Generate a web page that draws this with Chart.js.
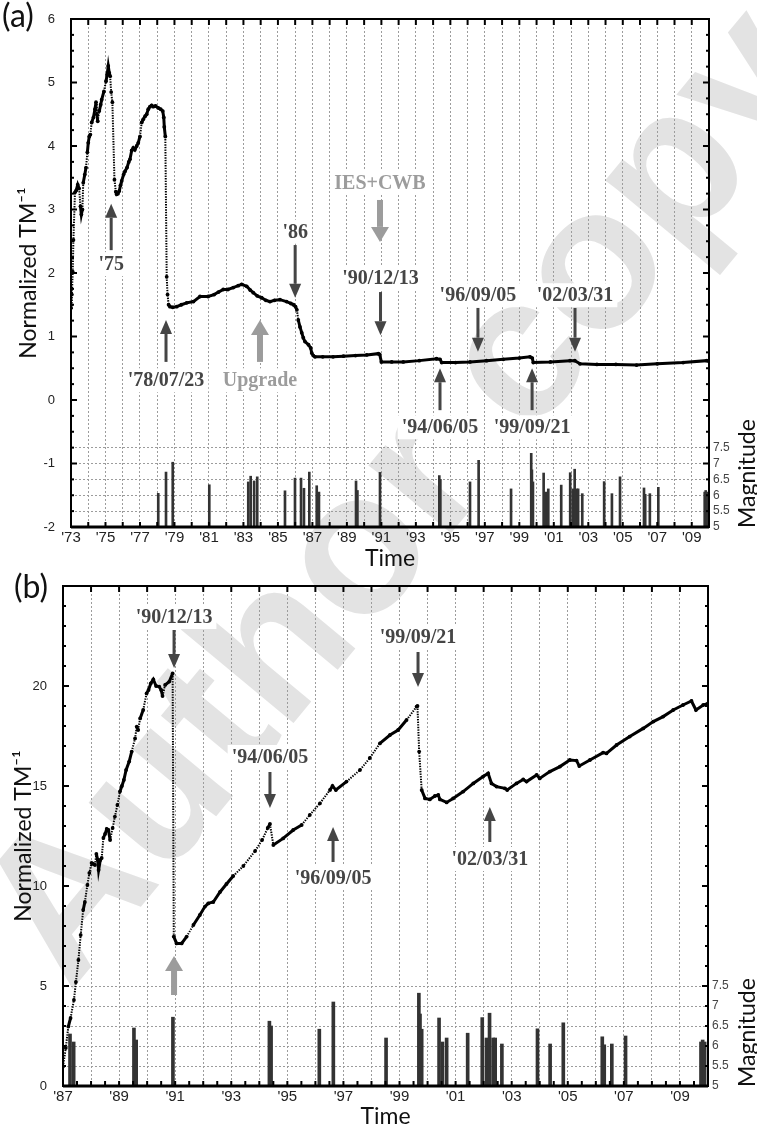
<!DOCTYPE html>
<html>
<head>
<meta charset="utf-8">
<script src="https://cdn.jsdelivr.net/npm/chart.js@4/dist/chart.umd.min.js"></script>
<style>
  html, body { margin: 0; padding: 0; background: #fff; }
  #wrap { position: relative; width: 757px; height: 1131px; overflow: hidden; background: #fff; }
  #ca { position: absolute; left: 0; top: 0; }
  #cb { position: absolute; left: 0; top: 570px; }
</style>
</head>
<body>
<div id="wrap">
  <canvas id="ca" width="757" height="570"></canvas>
  <canvas id="cb" width="757" height="561"></canvas>
</div>
<script>
// ---------------- Panel (a): normalized TM^-1, 1973-2010 ----------------
const timeA = [1973.00,1973.05,1973.10,1973.14,1973.23,1973.30,1973.39,1973.47,1973.55,
  1973.60,1973.66,1973.71,1973.80,1973.87,1973.95,1974.00,1974.06,1974.12,1974.20,
  1974.30,1974.39,1974.45,1974.50,1974.55,1974.64,1974.72,1974.78,1974.91,1975.03,
  1975.10,1975.16,1975.22,1975.27,1975.33,1975.40,1975.52,1975.60,1975.65,
  1975.72,1975.80,1975.87,1975.94,1976.05,1976.13,1976.25,1976.35,1976.42,1976.52,
  1976.61,1976.70,1976.81,1976.90,1977.00,1977.10,1977.19,1977.30,1977.39,1977.48,
  1977.58,1977.68,1977.77,1977.90,1978.06,1978.20,1978.32,1978.38,1978.41,1978.47,
  1978.55,1978.60,1978.66,1978.74,1978.90,1979.13,1979.40,1979.71,1980.10,
  1980.48,1980.95,1981.30,1981.55,1981.83,1982.10,1982.41,1982.70,1982.90,1983.19,
  1983.40,1983.57,1983.80,1984.06,1984.30,1984.54,1984.80,1985.12,1985.50,1985.75,
  1985.90,1986.02,1986.10,1986.18,1986.28,1986.38,1986.47,1986.57,1986.77,1986.90,
  1986.96,1987.05,1987.15,1987.60,1988.20,1988.80,1989.50,1990.15,1990.82,1990.90,
  1991.00,1991.60,1992.27,1993.20,1994.20,1994.40,1994.50,1995.30,1996.14,1997.10,
  1998.07,1999.00,1999.62,1999.75,1999.81,2000.80,2001.94,2002.22,2002.52,2003.50,
  2004.60,2005.80,2007.00,2008.50,2009.87,2010.00];
const tmA = [1.45,1.66,2.02,2.52,3.27,3.30,3.39,3.33,3.05,
  2.92,3.00,3.42,3.55,3.66,3.90,4.05,4.15,4.18,4.37,
  4.45,4.58,4.69,4.50,4.39,4.55,4.65,4.73,4.86,5.02,
  5.13,5.26,5.15,5.10,4.85,4.69,3.47,3.28,3.24,
  3.25,3.29,3.38,3.45,3.55,3.60,3.66,3.75,3.79,3.93,
  3.97,3.94,4.00,4.05,4.15,4.37,4.42,4.47,4.50,4.58,
  4.62,4.64,4.62,4.63,4.60,4.58,4.55,4.45,4.30,4.15,
  1.94,1.66,1.50,1.47,1.46,1.47,1.50,1.53,1.55,
  1.63,1.63,1.66,1.70,1.74,1.74,1.77,1.80,1.82,1.79,
  1.73,1.69,1.64,1.61,1.57,1.55,1.57,1.58,1.55,1.52,
  1.50,1.47,1.42,1.26,1.15,1.06,0.98,0.92,0.87,0.82,
  0.74,0.70,0.68,0.68,0.68,0.69,0.70,0.71,0.73,0.72,
  0.60,0.60,0.60,0.62,0.65,0.64,0.59,0.59,0.60,0.62,
  0.64,0.66,0.68,0.66,0.59,0.60,0.62,0.62,0.57,0.56,
  0.56,0.55,0.57,0.59,0.62,0.61];

// ---------------- Panel (b): normalized TM^-1, 1987-2010 ----------------
const timeB = [1987.00,1987.10,1987.19,1987.27,1987.39,1987.46,1987.55,1987.63,
  1987.72,1987.78,1987.87,1987.94,1988.02,1988.08,1988.14,1988.19,1988.24,1988.27,
  1988.33,1988.38,1988.44,1988.50,1988.56,1988.62,1988.68,1988.77,1988.85,1988.94,
  1989.03,1989.10,1989.17,1989.25,1989.36,1989.45,1989.57,1989.63,1989.68,1989.75,
  1989.86,1989.98,1990.05,1990.13,1990.22,1990.32,1990.43,1990.50,1990.55,1990.64,
  1990.79,1990.91,1990.95,1991.05,1991.23,1991.41,1991.65,1991.88,1992.06,1992.18,
  1992.36,1992.60,1992.83,1993.07,1993.43,1993.85,1994.10,1994.30,1994.38,
  1994.50,1994.85,1995.21,1995.51,1995.80,1996.16,1996.52,1996.61,1996.73,1997.11,
  1997.59,1997.94,1998.30,1998.66,1998.95,1999.25,1999.61,1999.64,1999.70,1999.79,
  1999.91,2000.08,2000.26,2000.38,2000.44,2000.68,2000.91,2001.27,2001.63,2001.98,
  2002.16,2002.28,2002.46,2002.76,2002.84,2003.17,2003.41,2003.53,2003.89,2004.00,
  2004.36,2004.72,2005.07,2005.31,2005.41,2005.79,2006.26,2006.38,2006.74,2007.21,
  2007.69,2008.05,2008.40,2008.76,2009.11,2009.41,2009.57,2009.83,2010.00];
const tmB = [0.97,1.9,2.97,3.4,4.3,5.2,6.3,7.55,
  8.8,9.2,10.05,10.65,11.15,11.1,11.05,11.6,11.3,10.8,
  11.3,11.4,12.4,12.6,12.85,12.8,12.3,12.9,13.47,14.05,
  14.72,15.0,15.3,15.8,16.22,16.72,17.38,17.97,17.8,18.38,
  18.8,19.63,19.8,20.13,20.33,20.0,19.97,19.8,19.5,20.05,
  20.22,20.63,7.47,7.13,7.13,7.47,8.05,8.55,8.97,9.13,
  9.2,9.7,10.1,10.5,11.0,11.75,12.3,12.9,13.1,
  12.05,12.38,12.8,13.05,13.55,14.13,14.8,15.0,14.8,15.22,
  15.8,16.4,17.13,17.55,17.8,18.3,18.97,19.0,16.72,14.8,
  14.38,14.33,14.5,14.55,14.33,14.18,14.38,14.72,15.13,15.47,
  15.63,15.13,14.97,14.88,14.8,15.13,15.33,15.22,15.55,15.38,
  15.72,15.97,16.3,16.27,16.0,16.3,16.67,16.63,17.05,17.47,
  17.88,18.22,18.47,18.8,19.05,19.25,18.8,19.05,19.13];

// ---------------- Earthquake catalogue (magnitude) ----------------
const quakeTime = [1978.06,1978.51,1978.90,1981.02,1983.28,1983.42,1983.62,1983.80,1985.41,1985.99,
  1986.34,1986.51,1986.82,1987.25,1987.38,1989.53,1989.61,1990.92,1994.36,1994.42,
  1996.14,1996.64,1998.52,1999.69,1999.73,1999.79,2000.41,2000.53,2000.68,2001.43,
  2001.95,2002.10,2002.21,2002.34,2002.41,2002.65,2003.92,2004.37,2004.84,2006.23,
  2006.30,2006.57,2007.06,2009.75,2009.81,2009.88];
const quakeMag = [6.06,6.73,7.04,6.33,6.42,6.6,6.45,6.58,6.14,6.54,
  6.54,6.22,6.73,6.3,6.1,6.45,6.15,6.72,6.62,6.5,
  6.42,7.1,6.2,7.32,6.8,6.42,6.7,6.1,6.2,6.32,
  6.71,6.2,6.82,6.2,6.2,6.05,6.43,6.05,6.58,6.23,
  6.03,6.05,6.25,6.1,6.15,6.1];

// ---------------- Tick labels ----------------
const xLabelYearsA = [1973,1975,1977,1979,1981,1983,1985,1987,1989,1991,1993,1995,1997,1999,2001,2003,2005,2007,2009];
const xLabelsA = ["'73","'75","'77","'79","'81","'83","'85","'87","'89","'91","'93","'95","'97","'99","'01","'03","'05","'07","'09"];
const xLabelYearsB = [1987,1989,1991,1993,1995,1997,1999,2001,2003,2005,2007,2009];
const xLabelsB = ["'87","'89","'91","'93","'95","'97","'99","'01","'03","'05","'07","'09"];
const yTicksA = [-2,-1,0,1,2,3,4,5,6];
const yLabelsA = ['-2','-1','0','1','2','3','4','5','6'];
const yTicksB = [0,5,10,15,20,25];
const yLabelsB = ['0','5','10','15','20',''];
const magTickValues = [5,5.5,6,6.5,7,7.5];
const magTickLabels = ['5','5.5','6','6.5','7','7.5'];

// ---------------- Annotations (data coordinates) ----------------
const notesA = [
  {text:"'75", year:1975.33, tip:3.09, tail:2.36, label:2.14},
  {text:"'78/07/23", year:1978.51, tip:1.26, tail:0.60, label:0.31},
  {text:"Upgrade", year:1983.96, tip:1.26, tail:0.60, label:0.31, gray:true},
  {text:"'86", year:1986.0, tip:1.61, tail:2.44, label:2.65},
  {text:"IES+CWB", year:1990.92, tip:2.49, tail:3.15, label:3.42, gray:true},
  {text:"'90/12/13", year:1990.95, tip:1.02, tail:1.70, label:1.92},
  {text:"'96/09/05", year:1996.6, tip:0.76, tail:1.45, label:1.65},
  {text:"'02/03/31", year:2002.23, tip:0.76, tail:1.45, label:1.65},
  {text:"'94/06/05", year:1994.4, tip:0.50, tail:-0.16, label:-0.43},
  {text:"'99/09/21", year:1999.74, tip:0.50, tail:-0.16, label:-0.43}
];
const notesB = [
  {text:"'90/12/13", year:1990.96, tip:20.9, tail:22.8, label:23.45},
  {text:"", year:1990.96, tip:6.5, tail:4.55, gray:true},
  {text:"'94/06/05", year:1994.38, tip:13.9, tail:15.7, label:16.45},
  {text:"'96/09/05", year:1996.63, tip:12.95, tail:11.2, label:10.4},
  {text:"'99/09/21", year:1999.66, tip:19.95, tail:21.7, label:22.45},
  {text:"'02/03/31", year:2002.22, tip:13.95, tail:12.2, label:11.35}
];

// ---------------- Drawing helpers ----------------
const TICK_FONT = '"Liberation Sans Narrow", "Liberation Sans", Arial, sans-serif';
const TITLE_FONT = 'Lato, "Liberation Sans", sans-serif';
const DARK = '#454545', GRAY = '#9c9c9c';

function drawArrow(ctx, x, yTail, yTip, gray) {
  const shaft = gray ? 6 : 3, headW = gray ? 18 : 12, headL = gray ? 15 : 14;
  const dir = Math.sign(yTip - yTail);
  const yBase = yTip - dir * headL;
  ctx.fillStyle = gray ? GRAY : DARK;
  ctx.fillRect(x - shaft / 2, Math.min(yTail, yBase), shaft, Math.abs(yBase - yTail));
  ctx.beginPath();
  ctx.moveTo(x - headW / 2, yBase);
  ctx.lineTo(x + headW / 2, yBase);
  ctx.lineTo(x, yTip);
  ctx.closePath();
  ctx.fill();
}
function drawLabel(ctx, text, x, y, gray) {
  ctx.font = 'bold 20px "Liberation Serif", "Times New Roman", serif';
  const w = ctx.measureText(text).width;
  ctx.fillStyle = '#fff';
  ctx.fillRect(x - w / 2 - 4, y - 12, w + 8, 24);
  ctx.fillStyle = gray ? GRAY : DARK;
  ctx.textAlign = 'center';
  ctx.textBaseline = 'middle';
  ctx.fillText(text, x, y + 1);
}
const isMult = (v, s) => Math.abs(v / s - Math.round(v / s)) < 1e-6;

const deco = {
  id: 'deco',
  beforeDraw(chart, args, o) {
    const ctx = chart.ctx;
    ctx.save();
    ctx.translate(69.5, 992.8 - o.offsetY);
    ctx.rotate(-50.3 * Math.PI / 180);
    ctx.font = 'bold 202px "Liberation Sans", Arial, sans-serif';
    ctx.fillStyle = '#e3e3e3';
    ctx.textAlign = 'left';
    ctx.textBaseline = 'alphabetic';
    ctx.fillText('Author copy', 0, 0);
    ctx.restore();
  },
  beforeDatasetsDraw(chart, args, o) {
    const {ctx, scales: {x, y}} = chart;
    ctx.save();
    o.notes.forEach(n => {
      const px = x.getPixelForValue(n.year);
      drawArrow(ctx, px, y.getPixelForValue(n.tail), y.getPixelForValue(n.tip), n.gray);
      if (n.text) drawLabel(ctx, n.text, px, y.getPixelForValue(n.label), n.gray);
    });
    ctx.restore();
  },
  afterDatasetsDraw(chart, args, o) {
    const {ctx, chartArea: a, scales: {x, y}} = chart;
    ctx.save();
    ctx.strokeStyle = '#000';
    const tick = (x1, y1, x2, y2, w) => { ctx.lineWidth = w; ctx.beginPath(); ctx.moveTo(x1, y1); ctx.lineTo(x2, y2); ctx.stroke(); };
    for (let v = x.min; v <= x.max + 1e-9; v += o.topStep) {
      const px = x.getPixelForValue(v); tick(px, a.top, px, a.top + 6, 2);
    }
    for (let v = x.min; v <= x.max + 1e-9; v += o.bottomStep) {
      const px = x.getPixelForValue(v); tick(px, a.bottom, px, a.bottom - 5, 2);
    }
    for (let v = y.min; v <= y.max + 1e-9; v += o.leftMinor) {
      const py = y.getPixelForValue(v);
      const major = isMult(v, o.leftMajor);
      tick(a.left, py, a.left + (major ? 6 : 3), py, 2);
      tick(a.right, py, a.right - (major ? 6 : 3), py, 2);
    }
    ctx.lineWidth = 2;
    ctx.strokeRect(a.left, a.top, a.right - a.left, a.bottom - a.top);
    tick(a.left, a.bottom, a.right, a.bottom, 3);
    // panel tag
    ctx.fillStyle = '#111';
    ctx.font = '32px ' + TITLE_FONT;
    ctx.textAlign = 'left';
    ctx.textBaseline = 'top';
    ctx.fillText(o.tag, o.tagX, o.tagY);
    // Magnitude title (reads bottom to top)
    ctx.save();
    ctx.translate(755, a.bottom + 1);
    ctx.rotate(-Math.PI / 2);
    ctx.font = '23px ' + TITLE_FONT;
    ctx.textBaseline = 'alphabetic';
    ctx.textAlign = 'left';
    ctx.fillText('Magnitude', 0, 0);
    ctx.restore();
    ctx.restore();
  }
};

const steep = c => Math.abs(c.p1.y - c.p0.y) > 10;

function makeChart(canvas, cfg) {
  const yearsAll = [];
  for (let v = cfg.x0; v <= cfg.x1; v++) yearsAll.push(v);
  const qIdx = quakeTime.map((t, i) => i).filter(i => quakeTime[i] >= cfg.x0);
  return new Chart(canvas, {
    type: 'line',
    data: {
      datasets: [
        {
          type: 'line', label: 'Normalized TM-1',
          data: cfg.time.map((t, i) => ({x: t, y: cfg.tm[i]})),
          yAxisID: 'y', borderColor: '#000', borderWidth: 3,
          pointRadius: 1.9, pointHoverRadius: 1.9, pointBackgroundColor: '#000', pointBorderWidth: 0,
          tension: 0, order: 0,
          segment: {
            borderDash: c => steep(c) ? [1.4, 1.2] : undefined,
            borderWidth: c => steep(c) ? 2 : undefined
          }
        },
        {
          type: 'bar', label: 'Magnitude',
          data: qIdx.map(i => ({x: quakeTime[i], y: [5, quakeMag[i]]})),
          yAxisID: 'm', backgroundColor: '#333', barThickness: cfg.barW, grouped: false, order: 1
        }
      ]
    },
    options: {
      responsive: false, animation: false, devicePixelRatio: 1,
      layout: {padding: {top: cfg.padTop, left: 0, right: 0, bottom: 0}},
      plugins: {
        legend: {display: false}, tooltip: {enabled: false},
        deco: {notes: cfg.notes, offsetY: cfg.offsetY, topStep: 1, bottomStep: cfg.bottomStep,
               leftMinor: cfg.leftMinor, leftMajor: cfg.leftMajor, tag: cfg.tag, tagX: cfg.tagX, tagY: cfg.tagY}
      },
      scales: {
        x: {
          type: 'linear', position: 'bottom', min: cfg.x0, max: cfg.x1, offset: false,
          afterBuildTicks: s => { s.ticks = yearsAll.map(v => ({value: v})); },
          ticks: {
            autoSkip: false, maxRotation: 0, minRotation: 0, padding: 2,
            font: {family: TICK_FONT, size: 15}, color: '#222',
            callback: v => { const k = cfg.xLabelYears.indexOf(v); return k >= 0 ? cfg.xLabels[k] : ''; }
          },
          grid: {display: true, drawTicks: false, color: '#9c9c9c', lineWidth: 1, offset: false},
          border: {display: false, dash: [2, 2]},
          title: {display: true, text: 'Time', color: '#111', font: {family: TITLE_FONT, size: 23, lineHeight: 1},
                  padding: {top: 0, bottom: cfg.timePad}},
          afterFit: s => { s.height = cfg.bottomH; }
        },
        y: {
          type: 'linear', position: 'left', min: cfg.y0, max: cfg.y1,
          afterBuildTicks: s => { s.ticks = cfg.yTicks.map(v => ({value: v})); },
          ticks: {
            padding: 8, font: {family: '"Liberation Sans", Arial, sans-serif', size: 13}, color: '#222',
            callback: v => { const k = cfg.yTicks.indexOf(v); return k >= 0 ? cfg.yLabels[k] : ''; }
          },
          grid: {display: false},
          border: {display: false},
          title: {display: true, text: 'Normalized TM⁻¹', color: '#111', font: {family: TITLE_FONT, size: 23, lineHeight: 1},
                  padding: {top: cfg.yTitlePad, bottom: 0}},
          afterFit: s => { s.width = cfg.leftW; }
        },
        m: {
          type: 'linear', position: 'right', min: 5, max: cfg.mMax,
          afterBuildTicks: s => { s.ticks = magTickValues.map(v => ({value: v})); },
          ticks: {
            padding: 4, font: {family: '"Liberation Sans", Arial, sans-serif', size: 12}, color: '#444',
            callback: v => { const k = magTickValues.indexOf(v); return k >= 0 ? magTickLabels[k] : ''; }
          },
          grid: {display: true, drawTicks: false, color: '#9c9c9c', lineWidth: 1},
          border: {display: false, dash: [2, 2]},
          afterFit: s => { s.width = cfg.rightW; }
        }
      }
    },
    plugins: [deco]
  });
}

makeChart(document.getElementById('ca'), {
  time: timeA, tm: tmA, notes: notesA, offsetY: 0,
  x0: 1973, x1: 2010, y0: -2, y1: 6, mMax: 21,
  yTicks: yTicksA, yLabels: yLabelsA, xLabelYears: xLabelYearsA, xLabels: xLabelsA,
  padTop: 19, leftW: 71, rightW: 48, bottomH: 43, timePad: 0, yTitlePad: 17,
  bottomStep: 1, leftMinor: 0.25, leftMajor: 1, barW: 2,
  tag: '(a)', tagX: 2, tagY: 1
});
makeChart(document.getElementById('cb'), {
  time: timeB, tm: tmB, notes: notesB, offsetY: 570,
  x0: 1987, x1: 2010, y0: 0, y1: 25, mMax: 17.5,
  yTicks: yTicksB, yLabels: yLabelsB, xLabelYears: xLabelYearsB, xLabels: xLabelsB,
  padTop: 16, leftW: 63, rightW: 49, bottomH: 45, timePad: 3, yTitlePad: 12,
  bottomStep: 0.5, leftMinor: 1, leftMajor: 5, barW: 3,
  tag: '(b)', tagX: 14, tagY: 2
});
</script>
</body>
</html>
